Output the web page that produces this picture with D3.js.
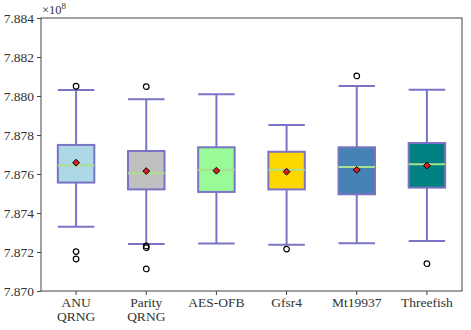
<!DOCTYPE html>
<html>
<head>
<meta charset="utf-8">
<script src="https://cdn.jsdelivr.net/npm/d3@7"></script>
<style>
  body { margin: 0; background: #fff; }
</style>
</head>
<body>
<div id="chart"></div>
<script>
// ── Data (in units of 1e8) ──────────────────────────────────────────────────
const generators = ['ANU\nQRNG', 'Parity\nQRNG', 'AES-OFB', 'Gfsr4', 'Mt19937', 'Threefish'];
const whiskerLow  = [7.87330, 7.87241, 7.87243, 7.87237, 7.87245, 7.87256];
const q1          = [7.87556, 7.87521, 7.87508, 7.87521, 7.87496, 7.87530];
const medians     = [7.87644, 7.87604, 7.87622, 7.87622, 7.87636, 7.87650];
const means       = [7.87658, 7.87615, 7.87617, 7.87612, 7.87621, 7.87643];
const q3          = [7.87749, 7.87718, 7.87737, 7.87714, 7.87737, 7.87759];
const whiskerHigh = [7.88031, 7.87983, 7.88009, 7.87851, 7.88051, 7.88032];
const outliers    = [
  [7.88050, 7.87202, 7.87164],
  [7.88048, 7.87231, 7.87222, 7.87113],
  [],
  [7.87215],
  [7.88103],
  [7.87140],
];
const boxColors = ['#add8e6', '#c0c0c0', '#98fb98', '#ffd700', '#4682b4', '#008080'];
const yTicks = [7.870, 7.872, 7.874, 7.876, 7.878, 7.880, 7.882, 7.884];

// ── Layout ──────────────────────────────────────────────────────────────────
const W = 471, H = 330;
const margin = { top: 18, right: 9, bottom: 39, left: 41 };
const EDGE = '#7a74c4', MEDIAN = '#a8e090';
const FONT = '"Liberation Serif", "Times New Roman", serif';
const FS = 13.5;

const svg = d3.select('#chart').append('svg').attr('width', W).attr('height', H)
  .attr('font-family', FONT);

const x = d3.scaleBand().domain(d3.range(generators.length))
  .range([margin.left, W - margin.right]);
const y = d3.scaleLinear().domain([7.870, 7.884]).range([H - margin.bottom, margin.top]);
const boxW = x.bandwidth() * 0.52;

// frame
svg.append('rect')
  .attr('x', margin.left).attr('y', margin.top)
  .attr('width', W - margin.left - margin.right).attr('height', H - margin.top - margin.bottom)
  .attr('fill', 'none').attr('stroke', '#444').attr('stroke-width', 1);

// axes
const yAxis = svg.append('g').attr('transform', `translate(${margin.left},0)`)
  .call(d3.axisLeft(y).tickValues(yTicks).tickFormat(d3.format('.3f')).tickSize(4).tickPadding(3));
const xAxis = svg.append('g').attr('transform', `translate(0,${H - margin.bottom})`)
  .call(d3.axisBottom(x).tickSize(4));
[yAxis, xAxis].forEach(a => {
  a.attr('font-family', FONT).attr('font-size', FS);
  a.select('.domain').remove();
  a.selectAll('line').attr('stroke', '#444');
});
yAxis.selectAll('text').attr('fill', '#333');
xAxis.selectAll('.tick text').remove();

// category labels, one text element per line
xAxis.selectAll('.tick').each(function (d) {
  generators[d].split('\n').forEach((l, i) => {
    d3.select(this).append('text').attr('text-anchor', 'middle')
      .attr('y', 16 + i * 14).attr('fill', '#333').text(l);
  });
});

// ×10^8 label
svg.append('text').attr('x', margin.left + 1).attr('y', margin.top - 4)
  .attr('font-size', 12.5).attr('fill', '#333')
  .text('×10').append('tspan').attr('dy', -5).attr('font-size', 9).text('8');

// boxes
const groups = svg.append('g').selectAll('g').data(generators).join('g')
  .attr('transform', (d, i) => `translate(${x(i) + x.bandwidth() / 2},0)`);

groups.append('line').attr('y1', (d, i) => y(whiskerLow[i])).attr('y2', (d, i) => y(q1[i]))
  .attr('stroke', EDGE).attr('stroke-width', 2);
groups.append('line').attr('y1', (d, i) => y(q3[i])).attr('y2', (d, i) => y(whiskerHigh[i]))
  .attr('stroke', EDGE).attr('stroke-width', 2);
[whiskerLow, whiskerHigh].forEach(arr => {
  groups.append('line').attr('x1', -boxW / 2).attr('x2', boxW / 2)
    .attr('y1', (d, i) => y(arr[i])).attr('y2', (d, i) => y(arr[i]))
    .attr('stroke', EDGE).attr('stroke-width', 2);
});
groups.append('rect')
  .attr('x', -boxW / 2).attr('width', boxW)
  .attr('y', (d, i) => y(q3[i])).attr('height', (d, i) => y(q1[i]) - y(q3[i]))
  .attr('fill', (d, i) => boxColors[i]).attr('stroke', EDGE).attr('stroke-width', 2);
groups.append('line').attr('x1', -boxW / 2).attr('x2', boxW / 2)
  .attr('y1', (d, i) => y(medians[i])).attr('y2', (d, i) => y(medians[i]))
  .attr('stroke', MEDIAN).attr('stroke-width', 2);

// mean diamonds
groups.append('path')
  .attr('d', d3.symbol(d3.symbolDiamond2, 30)())
  .attr('transform', (d, i) => `translate(0,${y(means[i])})`)
  .attr('fill', '#d62020').attr('stroke', '#000').attr('stroke-width', 1);

// outliers
groups.each(function (d, i) {
  d3.select(this).selectAll('circle').data(outliers[i]).join('circle')
    .attr('cy', v => y(v)).attr('r', 2.8)
    .attr('fill', 'none').attr('stroke', '#000').attr('stroke-width', 1.2);
});
</script>
</body>
</html>
